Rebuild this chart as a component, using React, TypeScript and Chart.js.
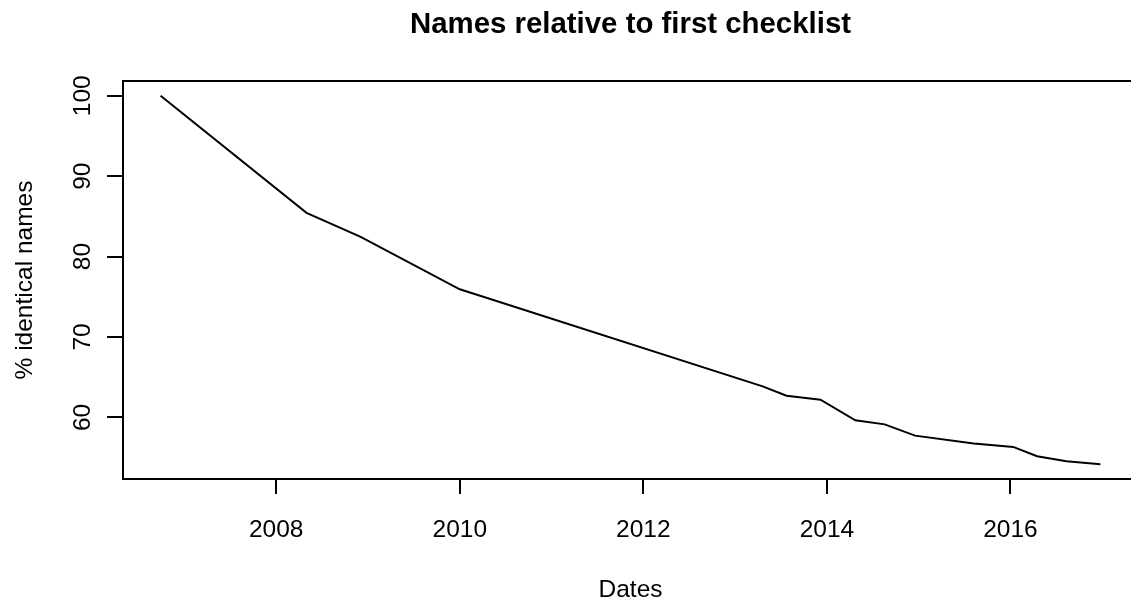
import { useEffect, useRef } from "react";
import { Chart, registerables } from "chart.js";

Chart.register(...registerables);

// Checklist dates (decimal years) and share of names identical to the first checklist (%)
const checklistDates = [
  2006.74, 2008.33, 2008.92, 2010.0, 2010.23, 2013.3, 2013.56, 2013.93,
  2014.31, 2014.63, 2014.96, 2015.6, 2016.03, 2016.29, 2016.61, 2016.98,
];
const identicalPct = [
  100.0, 85.43, 82.46, 75.93, 75.1, 63.85, 62.69, 62.2,
  59.63, 59.13, 57.73, 56.74, 56.33, 55.16, 54.54, 54.17,
];

const xTickValues = [2008, 2010, 2012, 2014, 2016];
const yTickValues = [60, 70, 80, 90, 100];

const chartTitle = "Names relative to first checklist";
const xAxisTitle = "Dates";
const yAxisTitle = "% identical names";

const FONT = '"Liberation Sans", Arial, Helvetica, sans-serif';

// R-style axis range: data range padded by 4% on each side
function paddedRange(values: number[]): [number, number] {
  const lo = Math.min(...values);
  const hi = Math.max(...values);
  const pad = (hi - lo) * 0.04;
  return [lo - pad, hi + pad];
}

const [xMin, xMax] = paddedRange(checklistDates);
const [yMin, yMax] = paddedRange(identicalPct);

// Draws the plot frame, title, rotated y tick labels and axis titles
const basePlotDecorations = {
  id: "basePlotDecorations",
  afterDraw(chart: any) {
    const { ctx, chartArea, scales, width } = chart;
    const { left, right, top, bottom } = chartArea;
    ctx.save();
    ctx.strokeStyle = "#000";
    ctx.lineWidth = 2;
    // frame: the right edge of the box lies past the visible page
    ctx.beginPath();
    ctx.moveTo(width, top);
    ctx.lineTo(left, top);
    ctx.lineTo(left, bottom);
    ctx.lineTo(width, bottom);
    ctx.stroke();

    ctx.fillStyle = "#000";
    const cx = (left + right) / 2;

    ctx.font = `bold 29.4px ${FONT}`;
    ctx.textAlign = "center";
    ctx.textBaseline = "alphabetic";
    ctx.fillText(chartTitle, cx, 33);

    ctx.font = `24.5px ${FONT}`;
    for (const v of xTickValues) {
      ctx.fillText(String(v), scales.x.getPixelForValue(v), 537);
    }
    ctx.fillText(xAxisTitle, cx, 597);

    for (const v of yTickValues) {
      ctx.save();
      ctx.translate(90, scales.y.getPixelForValue(v));
      ctx.rotate(-Math.PI / 2);
      ctx.fillText(String(v), 0, 0);
      ctx.restore();
    }

    ctx.save();
    ctx.translate(32, (top + bottom) / 2);
    ctx.rotate(-Math.PI / 2);
    ctx.fillText(yAxisTitle, 0, 0);
    ctx.restore();

    ctx.restore();
  },
};

export default function App() {
  const canvasRef = useRef<HTMLCanvasElement | null>(null);

  useEffect(() => {
    const canvas = canvasRef.current;
    if (!canvas) return;
    const chart = new Chart(canvas, {
      type: "line",
      data: {
        datasets: [
          {
            data: checklistDates.map((x, i) => ({ x, y: identicalPct[i] })),
            borderColor: "#000",
            borderWidth: 2,
            pointRadius: 0,
            tension: 0,
            fill: false,
          },
        ],
      },
      options: {
        animation: false,
        responsive: false,
        devicePixelRatio: 1,
        layout: { padding: { top: 81, right: 7, left: 0, bottom: 0 } },
        plugins: {
          legend: { display: false },
          title: { display: false },
          tooltip: { enabled: false },
        },
        scales: {
          x: {
            type: "linear",
            min: xMin,
            max: xMax,
            afterBuildTicks: (s: any) => {
              s.ticks = xTickValues.map((value) => ({ value }));
            },
            afterFit: (s: any) => {
              s.height = 121;
            },
            grid: {
              drawOnChartArea: false,
              drawTicks: true,
              tickLength: 15,
              color: "#000",
              lineWidth: 2,
            },
            border: { display: false },
            ticks: { display: false },
          },
          y: {
            type: "linear",
            min: yMin,
            max: yMax,
            afterBuildTicks: (s: any) => {
              s.ticks = yTickValues.map((value) => ({ value }));
            },
            afterFit: (s: any) => {
              s.width = 123;
            },
            grid: {
              drawOnChartArea: false,
              drawTicks: true,
              tickLength: 16,
              color: "#000",
              lineWidth: 2,
            },
            border: { display: false },
            ticks: { display: false },
          },
        },
      },
      plugins: [basePlotDecorations],
    });
    return () => chart.destroy();
  }, []);

  return (
    <div
      style={{
        position: "fixed",
        left: 0,
        top: 0,
        width: 1131,
        height: 600,
        overflow: "hidden",
        background: "#fff",
      }}
    >
      <canvas ref={canvasRef} width={1145} height={600} style={{ display: "block" }} />
    </div>
  );
}
